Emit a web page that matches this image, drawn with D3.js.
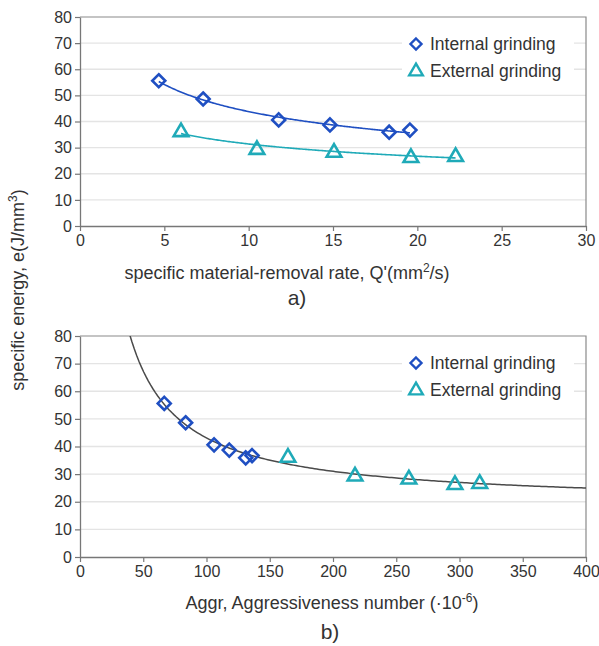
<!DOCTYPE html>
<html>
<head>
<meta charset="utf-8">
<script src="https://cdn.jsdelivr.net/npm/d3@7"></script>
<style>
  body { margin: 0; background: #fff; }
  svg { display: block; font-family: "Liberation Sans", Arial, sans-serif; }
</style>
</head>
<body>
<svg id="chart" width="599" height="646"></svg>
<script>
// Specific energy measurements, internal vs external grinding
const internalQ = [4.67, 7.3, 11.78, 14.82, 18.33, 19.56];
const internalE = [55.6, 48.6, 40.6, 38.7, 35.9, 36.7];
const internalAggr = [66.6, 83.5, 106, 118, 131, 136];

const externalQ = [5.99, 10.49, 15.06, 19.62, 22.27];
const externalE = [36.4, 29.6, 28.5, 26.5, 26.9];
const externalAggr = [164.4, 217.4, 260, 296.4, 316];

const qTicks = [0, 5, 10, 15, 20, 25, 30];
const aggrTicks = [0, 50, 100, 150, 200, 250, 300, 350, 400];
const eTicks = [0, 10, 20, 30, 40, 50, 60, 70, 80];
const seriesNames = ["Internal grinding", "External grinding"];

const BLUE = "#1f4fc2";
const TEAL = "#1faab8";
const TEXT = "#333";

const svg = d3.select("#chart");

// power-law least squares e = a * x^b
function powerFit(xs, ys) {
  const lx = xs.map(Math.log), ly = ys.map(Math.log);
  const mx = d3.mean(lx), my = d3.mean(ly);
  const b = d3.sum(lx, (v, i) => (v - mx) * (ly[i] - my)) / d3.sum(lx, v => (v - mx) ** 2);
  const a = Math.exp(my - b * mx);
  return x => a * Math.pow(x, b);
}
// least squares e = c + k / x
function inverseFit(xs, ys) {
  const ix = xs.map(v => 1 / v);
  const mx = d3.mean(ix), my = d3.mean(ys);
  const k = d3.sum(ix, (v, i) => (v - mx) * (ys[i] - my)) / d3.sum(ix, v => (v - mx) ** 2);
  const c = my - k * mx;
  return x => c + k / x;
}

function diamondPath(r) { return `M0,${-r}L${r},0L0,${r}L${-r},0Z`; }
function trianglePath(r) { return `M0,${-r * 1.05}L${r * 1.05},${r * 0.75}L${-r * 1.05},${r * 0.75}Z`; }

function panel(opts) {
  const { x0, x1, y0, y1, xDomain, xTicks, id } = opts;
  const x = d3.scaleLinear().domain(xDomain).range([x0, x1]);
  const y = d3.scaleLinear().domain([0, 80]).range([y1, y0]);
  const g = svg.append("g");

  g.append("clipPath").attr("id", id).append("rect")
    .attr("x", x0).attr("y", y0).attr("width", x1 - x0).attr("height", y1 - y0);

  // grid
  g.append("g").selectAll("line").data(eTicks.filter(t => t > 0 && t < 80)).join("line")
    .attr("x1", x0).attr("x2", x1).attr("y1", d => y(d)).attr("y2", d => y(d))
    .attr("stroke", "#e4e4e4").attr("stroke-width", 1.3);

  // frame top/right
  g.append("path").attr("d", `M${x0},${y0}H${x1}V${y1}`)
    .attr("fill", "none").attr("stroke", "#8a8a8a").attr("stroke-width", 1.2);

  const xa = g.append("g").attr("transform", `translate(0,${y1})`)
    .call(d3.axisBottom(x).tickValues(xTicks).tickSize(5).tickSizeOuter(0).tickPadding(4));
  const ya = g.append("g").attr("transform", `translate(${x0},0)`)
    .call(d3.axisLeft(y).tickValues(eTicks).tickSize(5).tickSizeOuter(0).tickPadding(3));
  [xa, ya].forEach(a => {
    a.select(".domain").attr("stroke", "#777").attr("stroke-width", 1.3);
    a.selectAll(".tick line").attr("stroke", "#777").attr("stroke-width", 1.2);
    a.selectAll("text").attr("fill", TEXT).style("font-size", "16px")
      .style("font-family", '"Liberation Sans", Arial, sans-serif');
  });

  // legend
  const lg = g.append("g").attr("transform", `translate(${x0 + 336},${y0 + 27})`);
  lg.append("rect").attr("x", -14).attr("y", -14).attr("width", 172).attr("height", 52).attr("fill", "#fff");
  const marks = [
    { p: diamondPath(5.5), c: BLUE },
    { p: trianglePath(6.5), c: TEAL }
  ];
  seriesNames.forEach((n, i) => {
    const row = lg.append("g").attr("transform", `translate(0,${i * 26.5})`);
    row.append("path").attr("d", marks[i].p).attr("fill", "none")
      .attr("stroke", marks[i].c).attr("stroke-width", 2.4);
    row.append("text").attr("x", 14).attr("y", 6).attr("fill", TEXT)
      .style("font-size", "17.5px").text(n);
  });

  return { g, x, y, clip: `url(#${id})` };
}

function drawPoints(p, xs, ys, color, shape) {
  p.g.append("g").selectAll("path").data(xs).join("path")
    .attr("transform", (d, i) => `translate(${p.x(d)},${p.y(ys[i])})`)
    .attr("d", shape).attr("fill", "none").attr("stroke", color).attr("stroke-width", 2.6);
}

function drawCurve(p, f, from, to, color, width) {
  const pts = d3.range(0, 201).map(i => from + (to - from) * i / 200);
  p.g.append("path").datum(pts)
    .attr("clip-path", p.clip)
    .attr("d", d3.line().x(d => p.x(d)).y(d => p.y(f(d))))
    .attr("fill", "none").attr("stroke", color).attr("stroke-width", width);
}

// panel a) energy vs material-removal rate
const a = panel({ x0: 80, x1: 586, y0: 17, y1: 226, xDomain: [0, 30], xTicks: qTicks, id: "clipA" });
drawCurve(a, powerFit(internalQ, internalE), d3.min(internalQ), d3.max(internalQ), BLUE, 1.6);
drawCurve(a, powerFit(externalQ, externalE), d3.min(externalQ), d3.max(externalQ), TEAL, 1.6);
drawPoints(a, internalQ, internalE, BLUE, diamondPath(6.5));
drawPoints(a, externalQ, externalE, TEAL, trianglePath(7));

svg.append("text").attr("x", 287).attr("y", 279).attr("text-anchor", "middle")
  .attr("fill", TEXT).style("font-size", "18px")
  .html("specific material-removal rate, Q'(mm<tspan dy='-7' font-size='12'>2</tspan><tspan dy='7'>/s)</tspan>");
svg.append("text").attr("x", 297).attr("y", 305).attr("text-anchor", "middle")
  .attr("fill", TEXT).style("font-size", "21px").text("a)");

// panel b) energy vs aggressiveness number, one fit for both processes
const b = panel({ x0: 80, x1: 586, y0: 336, y1: 557, xDomain: [0, 400], xTicks: aggrTicks, id: "clipB" });
const allAggr = internalAggr.concat(externalAggr);
const allE = internalE.concat(externalE);
drawCurve(b, inverseFit(allAggr, allE), 30, 400, "#4a4a4a", 1.5);
drawPoints(b, internalAggr, internalE, BLUE, diamondPath(6.5));
drawPoints(b, externalAggr, externalE, TEAL, trianglePath(7));

svg.append("text").attr("x", 332).attr("y", 609).attr("text-anchor", "middle")
  .attr("fill", TEXT).style("font-size", "18px")
  .html("Aggr, Aggressiveness number (·10<tspan dy='-7' font-size='12'>-6</tspan><tspan dy='7'>)</tspan>");
svg.append("text").attr("x", 330).attr("y", 639).attr("text-anchor", "middle")
  .attr("fill", TEXT).style("font-size", "21px").text("b)");

// shared y-axis title
svg.append("text").attr("transform", "translate(24,290) rotate(-90)").attr("text-anchor", "middle")
  .attr("fill", TEXT).style("font-size", "18px")
  .html("specific energy, e(J/mm<tspan dy='-7' font-size='12'>3</tspan><tspan dy='7'>)</tspan>");
</script>
</body>
</html>
